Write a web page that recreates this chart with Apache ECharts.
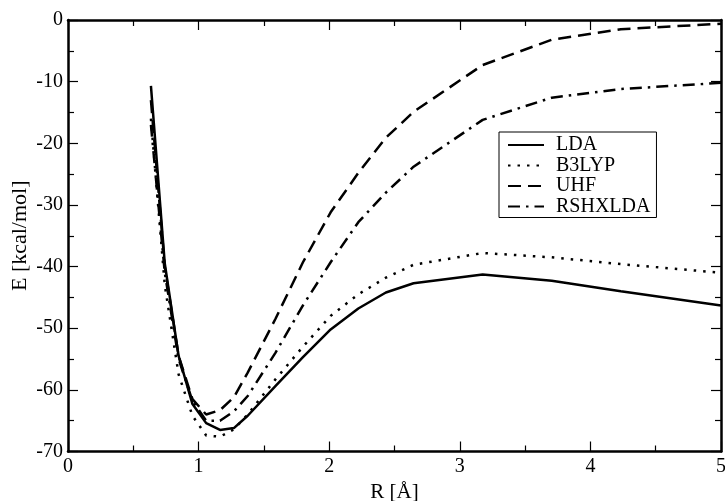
<!DOCTYPE html>
<html>
<head>
<meta charset="utf-8">
<script src="https://cdn.jsdelivr.net/npm/echarts@6/dist/echarts.min.js"></script>
<style>html,body{margin:0;padding:0;background:#fff}#c{width:725px;height:501px}</style>
</head>
<body>
<div id="c"></div>
<script>
var R = [0.635, 0.741, 0.847, 0.953, 1.058, 1.164, 1.270, 1.376, 1.588, 1.799, 2.011, 2.223, 2.434, 2.646, 3.175, 3.704, 4.233, 5.0];
var LDA = [-10.7, -39.5, -54.5, -62.3, -65.4, -66.5, -66.2, -64.2, -59.4, -54.7, -50.2, -46.8, -44.2, -42.7, -41.3, -42.3, -44.0, -46.3];
var B3LYP = [-16.0, -43.0, -57.5, -64.2, -67.4, -67.6, -66.4, -64.0, -58.3, -53.0, -48.0, -44.5, -41.8, -39.7, -37.8, -38.5, -39.6, -41.0];
var UHF = [-13.0, -40.0, -54.5, -61.5, -64.0, -63.3, -61.2, -57.2, -48.5, -39.3, -31.2, -24.8, -19.1, -14.9, -7.3, -3.2, -1.5, -0.6];
var RSHXLDA = [-17.0, -41.0, -55.0, -61.8, -65.0, -65.0, -63.5, -61.0, -54.0, -46.3, -39.3, -32.8, -28.0, -23.8, -16.2, -12.6, -11.2, -10.2];
var names = ['LDA', 'B3LYP', 'UHF', 'RSHXLDA'];
var dashes = ['solid', [2.5, 7], [13, 7], [12, 6, 2.5, 6]];
var xTicks = [0, 1, 2, 3, 4, 5];
var yTicks = [-70, -60, -50, -40, -30, -20, -10, 0];

function pairs(ys) { return R.map(function (r, i) { return [r, ys[i]]; }); }
var allData = [LDA, B3LYP, UHF, RSHXLDA];

var font = 'Liberation Serif';
var axisCommon = {
  axisLine: { show: true, onZero: false, lineStyle: { color: '#000', width: 2.5 } },
  axisTick: { show: true, inside: true, length: 10, lineStyle: { color: '#000', width: 1.2 } },
  minorTick: { show: true, splitNumber: 2, length: 6, lineStyle: { color: '#000', width: 1.2 } },
  splitLine: { show: false },
  minorSplitLine: { show: false }
};
function ax(extra) { return Object.assign({}, JSON.parse(JSON.stringify(axisCommon)), extra); }

var chart = echarts.init(document.getElementById('c'));
chart.setOption({
  animation: false,
  backgroundColor: '#fff',
  textStyle: { fontFamily: font },
  grid: { left: 68, right: 4, top: 20, bottom: 49.5, containLabel: false, outerBoundsMode: 'none' },
  xAxis: [
    ax({ type: 'value', min: xTicks[0], max: xTicks[xTicks.length - 1], interval: 1, position: 'bottom',
      name: 'R [Å]', nameLocation: 'middle', nameGap: 30,
      nameTextStyle: { fontFamily: font, fontSize: 21, color: '#000' },
      axisLabel: { show: true, margin: 5, fontFamily: font, fontSize: 20, color: '#000' } }),
    ax({ type: 'value', min: xTicks[0], max: xTicks[xTicks.length - 1], interval: 1, position: 'top',
      axisLabel: { show: false } })
  ],
  yAxis: [
    ax({ type: 'value', min: yTicks[0], max: yTicks[yTicks.length - 1], interval: 10, position: 'left',
      name: 'E [kcal/mol]', nameLocation: 'middle', nameGap: 37, nameRotate: 90, nameMoveOverlap: false,
      nameTextStyle: { fontFamily: font, fontSize: 22, color: '#000' },
      axisLabel: { show: true, margin: 5, fontFamily: font, fontSize: 20, color: '#000' } }),
    ax({ type: 'value', min: yTicks[0], max: yTicks[yTicks.length - 1], interval: 10, position: 'right',
      axisLabel: { show: false } })
  ],
  legend: {
    show: true,
    orient: 'vertical',
    left: 499, top: 132,
    padding: [3, 6, 1, 8],
    borderColor: '#000', borderWidth: 1,
    backgroundColor: '#fff',
    itemWidth: 36, itemHeight: 14, itemGap: 0.5,
    data: names,
    itemStyle: { color: 'rgba(0,0,0,0)', borderColor: 'rgba(0,0,0,0)', borderWidth: 0, opacity: 0 },
    textStyle: { fontFamily: font, fontSize: 20, lineHeight: 20, color: '#000', padding: [0, 0, 0, 7] }
  },
  series: names.map(function (n, i) {
    return {
      name: n, type: 'line', xAxisIndex: 0, yAxisIndex: 0,
      data: pairs(allData[i]),
      symbol: 'none', showSymbol: false,
      color: '#000',
      lineStyle: { color: '#000', width: 2.5, type: dashes[i], cap: 'butt' },
      z: 3
    };
  })
});
</script>
</body>
</html>
